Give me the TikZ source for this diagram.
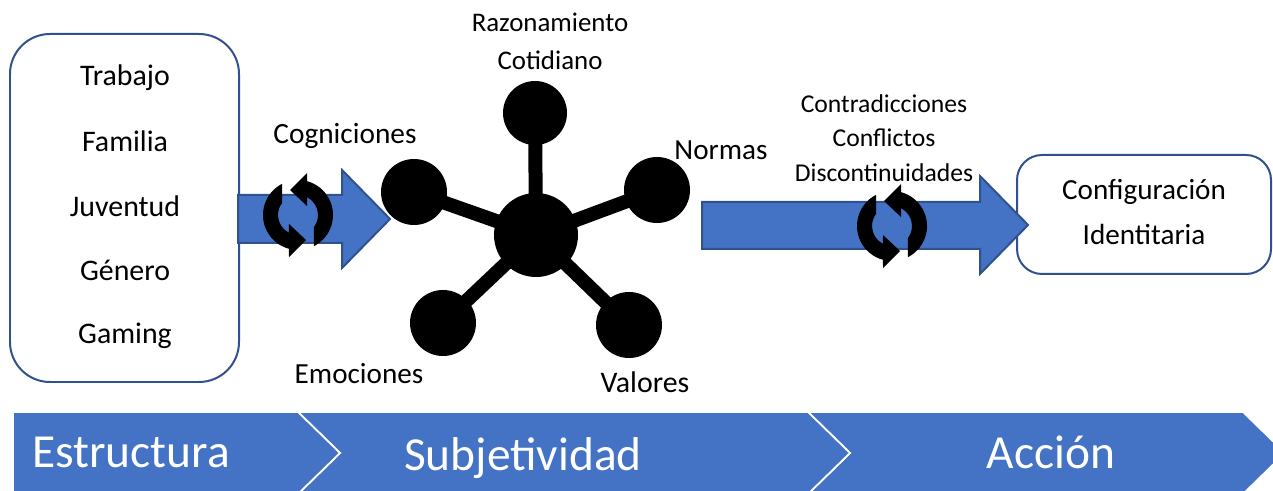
\documentclass[tikz,border=0pt]{standalone}
\usepackage{fontspec}
\setmainfont{Carlito}
\definecolor{azul}{HTML}{4472C4}
\definecolor{borde}{HTML}{2F528F}
\tikzset{
  lbl/.style={font=\fontsize{#1}{#1}\selectfont, inner sep=0pt, text=black},
  etapa/.style={font=\fontsize{27}{30}\selectfont, inner sep=0pt, text=white},
  caja/.style={draw=borde, line width=.04cm, fill=white},
  flecha/.style={draw=borde, line width=.04cm, fill=azul, line join=miter},
  chevron/.style={draw=white, line width=.035cm, fill=azul, line join=miter},
  hub/.style={circle, fill=black, inner sep=0pt, minimum size=#1*.02cm},
  spoke/.style={line width=.28cm, black},
  refresh/.pic={
    \foreach \r in {0,180}
    \fill[black, rotate=\r] (117:35) arc (117:255:35) -- (-9,-42) -- (8,-25) -- (-9,-9)
      -- (243:20) arc (243:143:20) -- cycle;
  }
}
\begin{document}
\begin{tikzpicture}[x=.02cm, y=.02cm, line join=round]
  \useasboundingbox (0,0) rectangle (1273,490);
  \clip (0,0) rectangle (1273,490);
  % cajas
  \draw[caja, rounded corners=.8cm] (10,108) rectangle (239,456);
  \draw[caja, rounded corners=.5cm] (1017,216) rectangle (1271,335);
  % flechas
  \draw[flecha] (238,247)--(342,247)--(342,222)--(390,271)--(342,320)--(342,295)--(238,295)--cycle;
  \draw[flecha] (702,241)--(980,241)--(980,216)--(1028,265)--(980,314)--(980,288)--(702,288)--cycle;
  \pic at (298,275) {refresh};
  \pic at (892,264) {refresh};
  % estrella
  \node[hub=84] (C) at (536,255) {};
  \node[hub=64] (R) at (535,377) {};
  \node[hub=66] (G) at (414,298) {};
  \node[hub=66] (N) at (657,300) {};
  \node[hub=66] (E) at (443,167) {};
  \node[hub=66] (V) at (629,165) {};
  \foreach \p in {R,G,N,E,V}\draw[spoke] (C.center)--(\p.center);
  % etiquetas
  \foreach \n/\x/\y/\t/\s in {tra/125/412/Trabajo/17, fam/125/349/Familia/17, juv/125/284/Juventud/17,
      gen/125/220/Género/17, gam/125/154/Gaming/17, cog/345/354/Cogniciones/16.7, raz/550/468/Razonamiento/15.3,
      cot/550/430/Cotidiano/15.3, nor/721/340/Normas/16.6, con/884/386/Contradicciones/14.6, cfl/884/352/Conflictos/14.6,
      dis/884/317/Discontinuidades/14.6, cfg/1144/298/Configuración/16.6, ide/1144/256/Identitaria/16.6,
      emo/359/116/Emociones/16.6, val/645/108/Valores/17}
    \node[lbl=\s] (\n) at (\x,\y) {\t};
  % barra inferior
  \draw[chevron] (1243,78)--(1285,37)--(1243,-4)--(808,-4)--(850,37)--(808,78)--cycle;
  \draw[chevron] (808,78)--(850,37)--(808,-4)--(298,-4)--(340,37)--(298,78)--cycle;
  \draw[chevron] (13,78)--(298,78)--(340,37)--(298,-4)--(13,-4)--cycle;
  \node[etapa] (est) at (131,38) {Estructura};
  \node[etapa] (sub) at (523,32) {Subjetividad};
  \node[etapa] (acc) at (1051,38) {Acción};
\end{tikzpicture}
\end{document}
